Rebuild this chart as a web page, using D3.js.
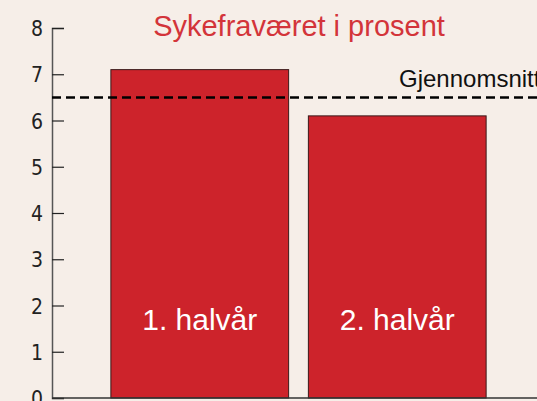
<!DOCTYPE html>
<html>
<head>
<meta charset="utf-8">
<script src="https://cdn.jsdelivr.net/npm/d3@7"></script>
<style>
  html, body { margin: 0; padding: 0; background: #f6eee8; overflow: hidden; }
  svg { display: block; }
</style>
</head>
<body>
<svg id="chart"></svg>
<script>
// Chart data
const categories = ["1. halvår", "2. halvår"];
const values = [7.1, 6.1];
const average = 6.5;
const yTicks = [0, 1, 2, 3, 4, 5, 6, 7, 8];

const width = 537;
const height = 401;

const svg = d3
  .select("#chart")
  .attr("width", width)
  .attr("height", height);

svg.append("rect")
  .attr("width", width)
  .attr("height", height)
  .attr("fill", "#f6eee8");

// Scales
const x = d3
  .scaleBand()
  .domain(categories)
  .range([101, 496])
  .paddingInner(0.1)
  .paddingOuter(0.05);

const y = d3.scaleLinear().domain([0, 8]).range([398, 28]);

const axisX = 52;

// Bars
svg
  .selectAll(".bar")
  .data(values)
  .enter()
  .append("rect")
  .attr("class", "bar")
  .attr("x", (d, i) => x(categories[i]))
  .attr("y", (d) => y(d))
  .attr("width", x.bandwidth())
  .attr("height", (d) => y(0) - y(d))
  .attr("fill", "#cd232b")
  .attr("stroke", "#3a1a1a")
  .attr("stroke-width", 1);

// Bar labels
svg
  .selectAll(".bar-label")
  .data(categories)
  .enter()
  .append("text")
  .attr("class", "bar-label")
  .attr("x", (d) => x(d) + x.bandwidth() / 2)
  .attr("y", 330)
  .attr("text-anchor", "middle")
  .attr("fill", "#ffffff")
  .attr("font-family", "Liberation Sans, Arial, sans-serif")
  .attr("font-size", "30px")
  .text((d) => d);

// Y axis
const yAxis = svg
  .append("g")
  .attr("transform", `translate(${axisX},0)`)
  .call(
    d3.axisRight(y)
      .tickValues(yTicks)
      .tickSize(12)
      .tickFormat(d3.format("d"))
  );
yAxis.select(".domain").attr("stroke", "#555").attr("stroke-width", 1.5);
yAxis.selectAll(".tick line").attr("stroke", "#222").attr("stroke-width", 1.2);
yAxis
  .selectAll(".tick text")
  .attr("x", -9)
  .attr("dy", "0.36em")
  .attr("text-anchor", "end")
  .attr("fill", "#222")
  .style("font-family", "'DejaVu Sans Condensed', 'DejaVu Sans', sans-serif")
  .style("font-stretch", "condensed")
  .style("font-size", "21px");

// Baseline
svg
  .append("line")
  .attr("x1", axisX)
  .attr("x2", width)
  .attr("y1", y(0))
  .attr("y2", y(0))
  .attr("stroke", "#333")
  .attr("stroke-width", 1.5);

// Average line
svg
  .append("line")
  .attr("x1", axisX)
  .attr("x2", width)
  .attr("y1", y(average))
  .attr("y2", y(average))
  .attr("stroke", "#000")
  .attr("stroke-width", 2.5)
  .attr("stroke-dasharray", "9,5");

svg
  .append("text")
  .attr("x", 399)
  .attr("y", 87)
  .attr("fill", "#111")
  .attr("font-family", "Liberation Sans, Arial, sans-serif")
  .attr("font-size", "24px")
  .text("Gjennomsnitt");

// Title
svg
  .append("text")
  .attr("x", 299)
  .attr("y", 36)
  .attr("text-anchor", "middle")
  .attr("fill", "#d3343a")
  .attr("font-family", "Liberation Sans, Arial, sans-serif")
  .attr("font-size", "29px")
  .text("Sykefraværet i prosent");
</script>
</body>
</html>
